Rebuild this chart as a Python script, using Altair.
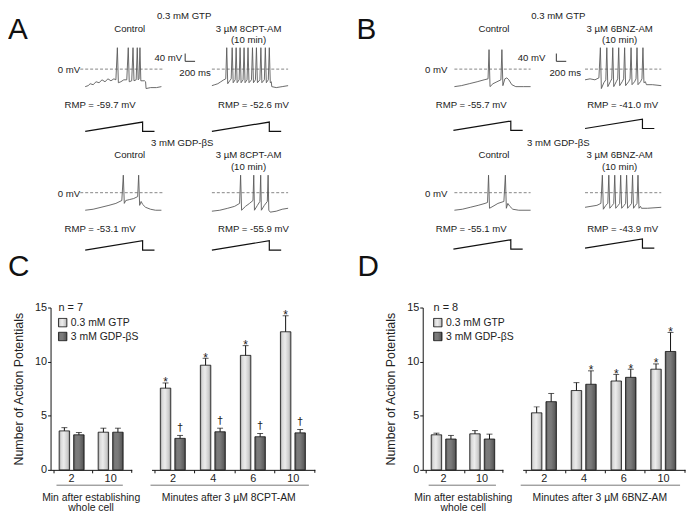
import altair as alt
import pandas as pd

FONT = "Liberation Sans"
INK = "#222222"

# ------------------------------------------------------------------
# Panels C and D : number of action potentials (mean and SEM)
# ------------------------------------------------------------------
series = ["0.3 mM GTP", "3 mM GDP-βS"]
groups_wc = ["2", "10"]            # min after establishing whole cell
groups_drug = ["2", "4", "6", "10"]  # minutes after drug

# Panel C (8CPT-AM), n = 7
c_wc_gtp = [3.6, 3.48]
c_wc_gtp_sem = [0.3, 0.37]
c_wc_gdp = [3.24, 3.48]
c_wc_gdp_sem = [0.21, 0.37]
c_drug_gtp = [7.55, 9.67, 10.58, 12.76]
c_drug_gtp_sem = [0.48, 0.64, 0.9, 1.48]
c_drug_gdp = [2.91, 3.52, 3.06, 3.42]
c_drug_gdp_sem = [0.27, 0.33, 0.3, 0.31]
c_drug_gtp_sig = ["*", "*", "*", "*"]
c_drug_gdp_sig = ["†", "†", "†", "†"]

# Panel D (6BNZ-AM), n = 8
d_wc_gtp = [3.24, 3.33]
d_wc_gtp_sem = [0.15, 0.3]
d_wc_gdp = [2.85, 2.85]
d_wc_gdp_sem = [0.33, 0.45]
d_drug_gtp = [5.27, 7.33, 8.21, 9.3]
d_drug_gtp_sem = [0.55, 0.73, 0.61, 0.49]
d_drug_gdp = [6.3, 7.91, 8.55, 10.94]
d_drug_gdp_sem = [0.76, 1.24, 0.75, 1.76]
d_drug_gtp_sig = ["", "", "*", "*"]
d_drug_gdp_sig = ["", "*", "*", "*"]

# ------------------------------------------------------------------
# Panels A and B : voltage traces (time in ms, membrane potential in mV)
# ------------------------------------------------------------------
A1_t = [0, 60, 100, 160, 220, 280, 340, 400, 460, 520, 580, 620, 650, 670, 720, 780, 840,
        870, 890, 940, 966, 986, 1030, 1052, 1070, 1088, 1106, 1124, 1200, 1220, 1230, 1320, 1440, 1540]
A1_v = [-90, -85, -75, -80, -65, -70, -55, -65, -50, -60, -50, -55, 110, -70, -65, -55, -55,
        110, -65, -60, 110, -60, -55, 110, -55, -50, 110, -60, -60, -65, -100, -95, -95, -90]

A2_t = [0, 60, 120, 180, 240, 280,
        300, 320, 360, 390,
        410, 430, 470, 490, 510, 550, 570, 590, 630, 650, 670, 710, 730, 750, 800,
        820, 840, 880, 900, 920, 970, 990, 1010, 1060, 1080, 1100, 1140,
        1160, 1180, 1200, 1210, 1300, 1420, 1540]
A2_v = [-85, -80, -75, -65, -55, -50,
        110, -75, -60, -50,
        110, -70, -55, 110, -70, -55, 110, -70, -55, 110, -70, -55, 110, -70, -55,
        110, -70, -55, 110, -70, -55, 110, -70, -55, 110, -70, -55,
        110, -70, -65, -90, -95, -90, -85]

A3_t = [0, 160, 320, 480, 620, 740, 770, 790, 820, 900, 980, 1060, 1080, 1100, 1130, 1160, 1220, 1320, 1420, 1540]
A3_v = [-90, -85, -75, -65, -55, -40, 90, -55, -40, -35, -30, -20, 90, -65, -45, -60, -75, -85, -90, -90]

A4_t = [0, 160, 320, 460, 560, 580, 600, 680, 760, 830, 846, 860, 920, 970, 986, 1000, 1060,
        1120, 1136, 1150, 1180, 1300, 1420, 1540]
A4_v = [-95, -90, -80, -70, -55, 90, -90, -70, -55, -40, 90, -90, -65, -45, 90, -90, -65,
        -45, 90, -90, -100, -95, -85, -80]

B1_t = [0, 140, 300, 460, 600, 680, 700, 720, 780, 860, 940, 960, 980, 1020, 1060, 1100, 1160, 1240, 1400, 1540]
B1_v = [-90, -85, -75, -65, -55, -50, 100, -90, -75, -65, -55, 100, -85, -50, -45, -55, -80, -90, -90, -90]

B2_t = [0, 100, 200, 280, 310, 330, 380, 420, 440, 460, 510, 540, 560, 580, 630, 660, 680, 700,
        750, 780, 800, 820, 880, 910, 930, 950, 1000, 1030, 1050, 1070, 1120, 1150, 1170, 1190,
        1220, 1240, 1360, 1540]
B2_v = [-55, -50, -55, -45, 110, -100, -70, -55, 110, -90, -65, -50, 110, -90, -65, -50, 110, -85,
        -65, -50, 110, -85, -65, -50, 110, -80, -65, -50, 110, -80, -65, -50, 110, -70,
        -65, -80, -80, -85]

B3_t = [0, 160, 320, 480, 620, 670, 690, 710, 780, 880, 1000, 1030, 1050, 1080, 1120, 1180, 1300, 1540]
B3_v = [-90, -85, -75, -65, -55, -50, 90, -80, -70, -55, -45, 90, -80, -55, -70, -85, -90, -90]

B4_t = [0, 120, 240, 320, 350, 370, 420, 460, 480, 500, 550, 580, 600, 620, 670, 700, 720, 740,
        790, 820, 840, 860, 910, 940, 960, 980, 1020, 1050, 1070, 1090, 1120, 1140, 1260, 1540]
B4_v = [-75, -70, -65, -55, 90, -85, -65, -55, 90, -80, -65, -55, 90, -80, -65, -55, 90, -80,
        -65, -55, 90, -80, -65, -55, 90, -80, -65, -55, 90, -80, -70, -80, -80, -75]

# ramp current command (ms, pA)
ramp_t = [0, 1160, 1160, 1400]
ramp_i = [0, 480, 0, 0]

# scale bar (mV, ms)
scalebar_mv = 40
scalebar_ms = 200

# ------------------------------------------------------------------
# layout of the trace panels (figure pixels)
# ------------------------------------------------------------------
MS_PER_PX = 20.0
MV_PER_PX = 5.0
PA_PER_PX = 50.0

traces = {"A1": (A1_t, A1_v), "A2": (A2_t, A2_v), "A3": (A3_t, A3_v), "A4": (A4_t, A4_v),
          "B1": (B1_t, B1_v), "B2": (B2_t, B2_v), "B3": (B3_t, B3_v), "B4": (B4_t, B4_v)}
trace_origin = {"A1": (82, 62), "A2": (210, 62), "A3": (82, 189), "A4": (210, 189),
                "B1": (455, 62), "B2": (587, 62), "B3": (455, 189), "B4": (587, 189)}
ramp_origin = {"A1": (82, 126), "A2": (210, 126), "A3": (82, 248), "A4": (210, 248),
               "B1": (454, 125), "B2": (587, 123), "B3": (454, 247), "B4": (587, 246)}
zero_lines = [(77, 160, 62), (210, 287, 62), (77, 160, 189), (210, 287, 189),
              (455, 532, 62), (587, 664, 62), (455, 532, 189), (587, 664, 189)]
scalebar_origin = {"A": (183, 54), "B": (558, 54)}

rows = []
for name, (tt, vv) in traces.items():
    x0, y0 = trace_origin[name]
    for i, (t, v) in enumerate(zip(tt, vv)):
        rows.append({"id": name, "i": i, "X": x0 + t / MS_PER_PX, "Y": y0 - v / MV_PER_PX})
trace_df = pd.DataFrame(rows)

rows = []
for name, (x0, y0) in ramp_origin.items():
    for i, (t, c) in enumerate(zip(ramp_t, ramp_i)):
        rows.append({"id": name, "i": i, "X": x0 + t / MS_PER_PX, "Y": y0 - c / PA_PER_PX})
ramp_df = pd.DataFrame(rows)

rows = []
for name, (x0, y0) in scalebar_origin.items():
    pts = [(x0, y0 - scalebar_mv / MV_PER_PX), (x0, y0), (x0 + scalebar_ms / MS_PER_PX, y0)]
    for i, (x, y) in enumerate(pts):
        rows.append({"id": name, "i": i, "X": x, "Y": y})
sbar_df = pd.DataFrame(rows)

zero_df = pd.DataFrame(zero_lines, columns=["x1", "x2", "y"])

# (text, x, baseline y) in figure pixels
center_texts = [
    ("0.3 mM GTP", 182, 10.5), ("Control", 127, 23.5), ("3 µM 8CPT-AM", 247, 23.5), ("(10 min)", 247, 35),
    ("200 ms", 193, 68.5), ("RMP = -59.7 mV", 97, 101.5), ("RMP = -52.6 mV", 252, 101.5),
    ("3 mM GDP-βS", 180, 140.5), ("Control", 127, 152.5), ("3 µM 8CPT-AM", 247, 152.5), ("(10 min)", 247, 165),
    ("RMP = -53.1 mV", 97, 228.5), ("RMP = -55.9 mV", 252, 228.5),
    ("0.3 mM GTP", 560, 10.5), ("Control", 495, 23.5), ("3 µM 6BNZ-AM", 622, 23.5), ("(10 min)", 622, 35),
    ("200 ms", 567, 68.5), ("RMP = -55.7 mV", 472, 101.5), ("RMP = -41.0 mV", 625, 101.5),
    ("3 mM GDP-βS", 560, 140.5), ("Control", 495, 152.5), ("3 µM 6BNZ-AM", 622, 152.5), ("(10 min)", 622, 165),
    ("RMP = -55.1 mV", 472, 228.5), ("RMP = -43.9 mV", 625, 228.5),
]
right_texts = [("40 mV", 180, 53.5), ("0 mV", 77, 65.5), ("0 mV", 77, 192.5),
               ("40 mV", 547, 53.5), ("0 mV", 448, 65.5), ("0 mV", 448, 192.5)]
letters = [("A", 4, 30), ("B", 356, 30), ("C", 4, 274), ("D", 357, 274)]

SMALL, BIG = 9.7, 30


def text_df(items, size):
    # convert a baseline position to a "top" anchor (tight text bounds)
    return pd.DataFrame([{"text": t, "x": x, "y": y - 0.79 * size} for t, x, y in items])


ctext_df = text_df(center_texts, SMALL)
rtext_df = text_df(right_texts, SMALL)
letter_df = text_df(letters, BIG)

# cell geometry
H = 164
W_CL, W_CR, W_SP, W_DL, W_DR = 82, 165, 69, 81, 164
SPACING = 20

# the trace layer lives in the first cell; figure px -> cell px (slightly squeezed vertically)
XS = alt.Scale(domain=[47, 47 + W_CL], nice=False, zero=False)
YS = alt.Scale(domain=[473.8, 307], nice=False, zero=False)


def fx(field):
    return alt.X(field, type="quantitative", scale=XS, axis=None)


def fy(field):
    return alt.Y(field, type="quantitative", scale=YS, axis=None)


trace_lines = alt.Chart(trace_df).mark_line(color="#5a5a5a", strokeWidth=0.9).encode(
    x=fx("X"), y=fy("Y"), detail="id:N", order="i:Q")
ramp_lines = alt.Chart(ramp_df).mark_line(color="#111111", strokeWidth=1.2).encode(
    x=fx("X"), y=fy("Y"), detail="id:N", order="i:Q")
sbar_lines = alt.Chart(sbar_df).mark_line(color="#333333", strokeWidth=1).encode(
    x=fx("X"), y=fy("Y"), detail="id:N", order="i:Q")
zero_rules = alt.Chart(zero_df).mark_rule(color="#666666", strokeWidth=0.8, strokeDash=[3, 2]).encode(
    x=fx("x1"), x2="x2:Q", y=fy("y"))
ctext = alt.Chart(ctext_df).mark_text(align="center", baseline="top", fontSize=SMALL,
                                      font=FONT, color=INK).encode(x=fx("x"), y=fy("y"), text="text:N")
rtext = alt.Chart(rtext_df).mark_text(align="right", baseline="top", fontSize=SMALL,
                                      font=FONT, color=INK).encode(x=fx("x"), y=fy("y"), text="text:N")
ltext = alt.Chart(letter_df).mark_text(align="left", baseline="top", fontSize=BIG,
                                       font=FONT, color="#111111").encode(x=fx("x"), y=fy("y"), text="text:N")

trace_layer = alt.layer(zero_rules, trace_lines, ramp_lines, sbar_lines, ctext, rtext, ltext)

# ------------------------------------------------------------------
# bar cells
# ------------------------------------------------------------------
GRAD_LIGHT = {"gradient": "linear", "x1": 0, "y1": 0, "x2": 1, "y2": 0,
              "stops": [{"offset": 0, "color": "#9a9a9a"}, {"offset": 0.18, "color": "#d9d9d9"},
                        {"offset": 0.45, "color": "#ececec"}, {"offset": 0.82, "color": "#cacaca"},
                        {"offset": 1, "color": "#8c8c8c"}]}
GRAD_DARK = {"gradient": "linear", "x1": 0, "y1": 0, "x2": 1, "y2": 0,
             "stops": [{"offset": 0, "color": "#4e4e4e"}, {"offset": 0.2, "color": "#7c7c7c"},
                       {"offset": 0.5, "color": "#7a7a7a"}, {"offset": 0.85, "color": "#5e5e5e"},
                       {"offset": 1, "color": "#3e3e3e"}]}

ONE = pd.DataFrame({"k": [0]})


def make_df(groups, gtp, gtp_sem, gdp, gdp_sem, gtp_sig=None, gdp_sig=None):
    gtp_sig = gtp_sig or [""] * len(groups)
    gdp_sig = gdp_sig or [""] * len(groups)
    rows = []
    for g, m, s, a in zip(groups, gtp, gtp_sem, gtp_sig):
        rows.append({"group": g, "series": series[0], "mean": m, "top": m + s, "sig": a})
    for g, m, s, a in zip(groups, gdp, gdp_sem, gdp_sig):
        rows.append({"group": g, "series": series[1], "mean": m, "top": m + s, "sig": a})
    return pd.DataFrame(rows)


def bar_cell(df, groups, width, y_title, underline, captions, legend_n=None, legend_x=8):
    x = alt.X("group:N", sort=groups,
              scale=alt.Scale(domain=groups, paddingInner=0.36, paddingOuter=0.22),
              axis=alt.Axis(title=None, orient="bottom", labelAngle=0, labelFontSize=11, labelFont=FONT,
                            labelColor=INK, labelPadding=0, tickSize=3, bandPosition=-0.22,
                            domainColor="#111111", tickColor="#111111", grid=False))
    xo = alt.XOffset("series:N", scale=alt.Scale(domain=series, paddingInner=0.28, paddingOuter=0))
    if y_title:
        yax = alt.Axis(title="Number of Action Potentials", orient="left", values=[0, 5, 10, 15],
                       tickSize=3, labelPadding=1, labelFontSize=11, labelFont=FONT, labelColor=INK,
                       titleFontSize=12.5, titleFont=FONT, titleFontWeight="normal", titleColor=INK,
                       titlePadding=9, domainColor="#111111", tickColor="#111111", grid=False)
    else:
        yax = None
    ys = alt.Scale(domain=[0, 15], nice=False, zero=True)
    base = alt.Chart(df)
    bars1 = base.transform_filter(alt.datum.series == series[0]).mark_bar(
        fill=GRAD_LIGHT, stroke="#111111", strokeWidth=0.8).encode(
        x=x, xOffset=xo, y=alt.Y("mean:Q", scale=ys, axis=yax))
    bars2 = base.transform_filter(alt.datum.series == series[1]).mark_bar(
        fill=GRAD_DARK, stroke="#111111", strokeWidth=0.8).encode(
        x=x, xOffset=xo, y=alt.Y("mean:Q", scale=ys, axis=yax))
    err = base.mark_rule(color="#111111", strokeWidth=1).encode(
        x=x, xOffset=xo, y=alt.Y("mean:Q", scale=ys, axis=yax), y2="top:Q")
    cap = base.mark_tick(color="#111111", size=6, thickness=1).encode(
        x=x, xOffset=xo, y=alt.Y("top:Q", scale=ys, axis=yax))
    stars = base.transform_filter(alt.datum.sig == "*").mark_text(
        fontSize=12, font=FONT, color="#222222", baseline="alphabetic", dy=3.5).encode(
        x=x, xOffset=xo, y=alt.Y("top:Q", scale=ys, axis=yax), text="sig:N")
    daggers = base.transform_filter(alt.datum.sig == "†").mark_text(
        fontSize=10.5, font="DejaVu Sans", color="#222222", baseline="alphabetic", dy=-4.5).encode(
        x=x, xOffset=xo, y=alt.Y("top:Q", scale=ys, axis=yax), text="sig:N")
    end_tick = alt.Chart(ONE).mark_rule(color="#111111").encode(
        x=alt.value(width), y=alt.value(H), y2=alt.value(H + 3))
    uline = alt.Chart(ONE).mark_rule(color="#777777", strokeWidth=1).encode(
        x=alt.value(underline[0]), x2=alt.value(underline[1]), y=alt.value(H + 15.5))
    layers = [bars1, bars2, err, cap, stars, daggers, end_tick, uline]
    for i, (txt, cx) in enumerate(captions):
        layers.append(alt.Chart(ONE).mark_text(align="center", baseline="alphabetic", fontSize=10.5,
                                               font=FONT, color=INK).encode(
            x=alt.value(cx), y=alt.value(H + 31.5 + 10.5 * i), text=alt.value(txt)))
    if legend_n is not None:
        layers.append(alt.Chart(ONE).mark_text(align="left", baseline="alphabetic", fontSize=11,
                                               font=FONT, color=INK).encode(
            x=alt.value(legend_x), y=alt.value(4), text=alt.value(legend_n)))
        for j, (lab, grad) in enumerate(zip(series, [GRAD_LIGHT, GRAD_DARK])):
            top = 11 + 14 * j
            layers.append(alt.Chart(ONE).mark_rect(fill=grad, stroke="#111111", strokeWidth=0.8).encode(
                x=alt.value(legend_x), x2=alt.value(legend_x + 8.5),
                y=alt.value(top), y2=alt.value(top + 8.5)))
            layers.append(alt.Chart(ONE).mark_text(align="left", baseline="alphabetic", fontSize=10.5,
                                                   font=FONT, color=INK).encode(
                x=alt.value(legend_x + 12.5), y=alt.value(top + 8), text=alt.value(lab)))
    return alt.layer(*layers)


c_left = bar_cell(make_df(groups_wc, c_wc_gtp, c_wc_gtp_sem, c_wc_gdp, c_wc_gdp_sem),
                  groups_wc, W_CL, True, (6, 73),
                  [("Min after establishing", 41), ("whole cell", 41)], legend_n="n = 7", legend_x=8)
c_right = bar_cell(make_df(groups_drug, c_drug_gtp, c_drug_gtp_sem, c_drug_gdp, c_drug_gdp_sem,
                           c_drug_gtp_sig, c_drug_gdp_sig),
                   groups_drug, W_CR, False, (-1, 159), [("Minutes after 3 µM 8CPT-AM", 78)])
d_left = bar_cell(make_df(groups_wc, d_wc_gtp, d_wc_gtp_sem, d_wc_gdp, d_wc_gdp_sem),
                  groups_wc, W_DL, True, (6, 74),
                  [("Min after establishing", 41), ("whole cell", 41)], legend_n="n = 8", legend_x=11)
d_right = bar_cell(make_df(groups_drug, d_drug_gtp, d_drug_gtp_sem, d_drug_gdp, d_drug_gdp_sem,
                           d_drug_gtp_sig, d_drug_gdp_sig),
                   groups_drug, W_DR, False, (-2, 159), [("Minutes after 3 µM 6BNZ-AM", 78)])

cell1 = alt.layer(c_left, trace_layer).resolve_scale(x="independent", y="independent").properties(
    width=W_CL, height=H)
cell2 = c_right.properties(width=W_CR, height=H)
spacer = alt.Chart(ONE).mark_point(opacity=0).encode(x=alt.value(0), y=alt.value(0)).properties(
    width=W_SP, height=H)
cell4 = d_left.properties(width=W_DL, height=H)
cell5 = d_right.properties(width=W_DR, height=H)

chart = alt.hconcat(cell1, cell2, spacer, cell4, cell5, spacing=SPACING, bounds="flush").properties(
    padding=0
).configure(font=FONT).configure_view(strokeWidth=0)

chart.save("out.html", embed_options={"renderer": "svg", "actions": False})
